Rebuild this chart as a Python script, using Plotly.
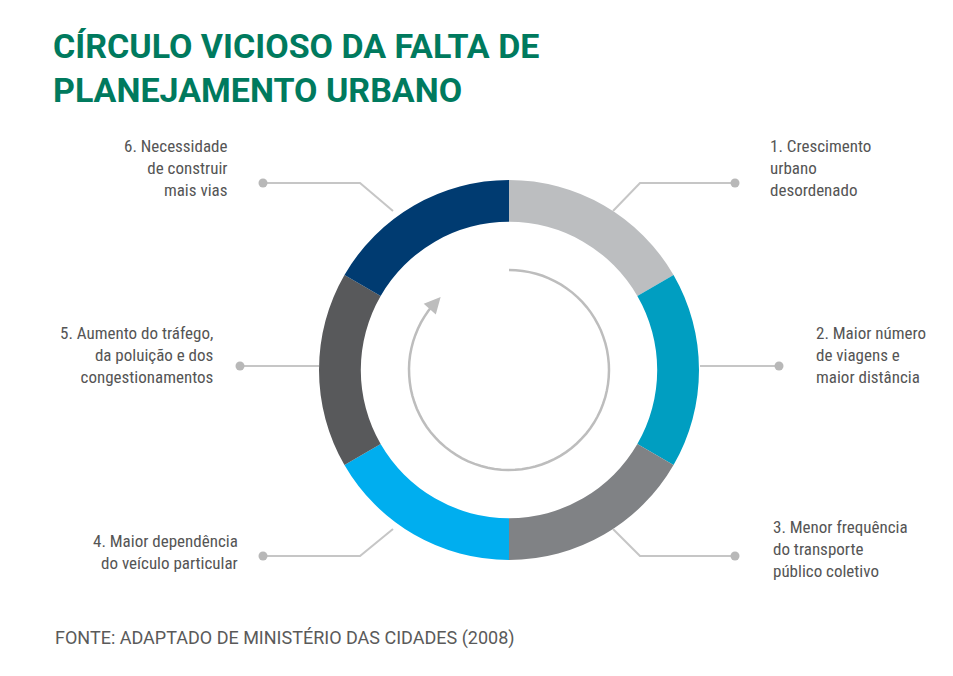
import numpy as np
import plotly.graph_objects as go

# etapas do círculo (sentido horário a partir do topo)
labels = ["1. Crescimento<br>urbano<br>desordenado",
          "2. Maior número<br>de viagens e<br>maior distância",
          "3. Menor frequência<br>do transporte<br>público coletivo",
          "4. Maior dependência<br>do veículo particular",
          "5. Aumento do tráfego,<br>da poluição e dos<br>congestionamentos",
          "6. Necessidade<br>de construir<br>mais vias"]
values = [1, 1, 1, 1, 1, 1]
colors = ["#bcbec0", "#009ec1", "#808285", "#00aeef", "#58595b", "#003b71"]

W, H = 953, 676
cx, cy, R = 501, 362, 190
txt_font = dict(family="Liberation Sans Narrow, Roboto Condensed, Arial Narrow, sans-serif",
                size=17, color="#555555")
line_col = "#c6c6c6"

fig = go.Figure()
fig.add_trace(go.Pie(values=values, marker=dict(colors=colors, line=dict(width=0)),
                     hole=0.78, sort=False, direction="clockwise", rotation=0,
                     textinfo="none", hoverinfo="skip", showlegend=False,
                     domain=dict(x=[(cx - R) / W, (cx + R) / W],
                                 y=[(H - cy - R) / H, (H - cy + R) / H])))

# linhas guia: (pontos), posição do texto, alinhamento
leaders = [
    ([(727, 175), (632, 175), (605, 203)], (760, 160), "left"),
    ([(771, 358), (692, 358)], (806, 347), "left"),
    ([(727, 548), (632, 548), (605, 521)], (763, 541), "left"),
    ([(255, 548), (352, 548), (385, 521)], (232, 544), "right"),
    ([(232, 358), (311, 358)], (207, 347), "right"),
    ([(255, 175), (352, 175), (385, 203)], (222, 160), "right"),
]
shapes = []
annotations = []
for (pts, (tx, ty), al), lab in zip(leaders, labels):
    path = "M" + " L".join(f"{x},{y}" for x, y in pts)
    shapes.append(dict(type="path", path=path, xref="x", yref="y",
                       line=dict(color=line_col, width=2)))
    dx, dy = pts[0]
    shapes.append(dict(type="circle", xref="x", yref="y", x0=dx - 4.5, x1=dx + 4.5,
                       y0=dy - 4.5, y1=dy + 4.5, fillcolor="#b8b8b8", line=dict(width=0)))
    annotations.append(dict(x=tx, y=ty, xref="x", yref="y", text=lab, showarrow=False,
                            xanchor=al, yanchor="middle", align=al, font=txt_font))

# seta circular interna
ang = np.linspace(np.pi / 2, np.pi / 2 - np.radians(310), 80)
r = 100
arc = "M" + " L".join(f"{cx + r*np.cos(a):.1f},{cy - r*np.sin(a):.1f}" for a in ang)
shapes.append(dict(type="path", path=arc, xref="x", yref="y",
                   line=dict(color="#bdbdbd", width=2.5)))
ae = ang[-1]
annotations.append(dict(x=cx + r*np.cos(ae - 0.12), y=cy - r*np.sin(ae - 0.12),
                        ax=cx + r*np.cos(ae + 0.05), ay=cy - r*np.sin(ae + 0.05),
                        xref="x", yref="y", axref="x", ayref="y", text="",
                        showarrow=True, arrowhead=2, arrowsize=1.3, arrowwidth=2.5,
                        arrowcolor="#bdbdbd"))

annotations.append(dict(x=43, y=16, xref="x", yref="y", xanchor="left", yanchor="top",
                        align="left", showarrow=False,
                        text="<b>CÍRCULO VICIOSO DA FALTA DE<br>PLANEJAMENTO URBANO</b>",
                        font=dict(family="Roboto, Arial, sans-serif", size=34, color="#007a5e")))
annotations.append(dict(x=45, y=630, xref="x", yref="y", xanchor="left", yanchor="middle",
                        showarrow=False, text="FONTE: ADAPTADO DE MINISTÉRIO DAS CIDADES (2008)",
                        font=dict(family="Roboto, Arial, sans-serif", size=18, color="#5a5a5a")))

fig.update_layout(width=W, height=H, margin=dict(l=0, r=0, t=0, b=0),
                  paper_bgcolor="white", plot_bgcolor="rgba(0,0,0,0)",
                  xaxis=dict(range=[0, W], visible=False, fixedrange=True),
                  yaxis=dict(range=[H, 0], visible=False, fixedrange=True),
                  shapes=shapes, annotations=annotations)
fig.write_html("out.html")
